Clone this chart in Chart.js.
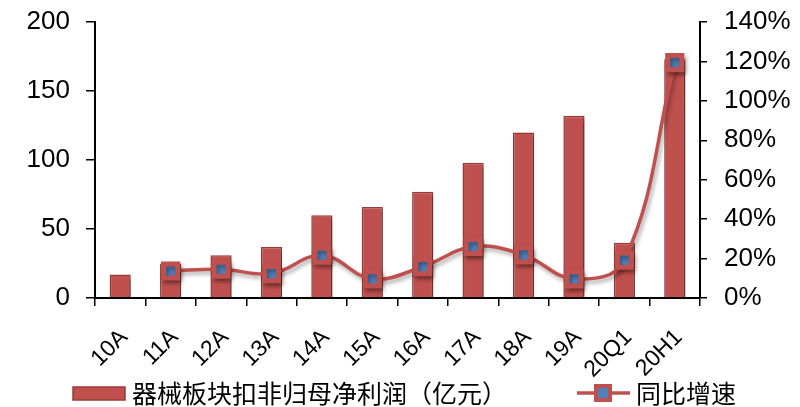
<!DOCTYPE html>
<html><head><meta charset="utf-8">
<script src="https://cdn.jsdelivr.net/npm/chart.js@4/dist/chart.umd.min.js"></script>
<style>html,body{margin:0;padding:0;background:#fff}#wrap{width:800px;height:407px;position:relative}</style>
</head><body><div id="wrap"><canvas id="c" width="800" height="407"></canvas></div>
<script>
const categories = ['10A','11A','12A','13A','14A','15A','16A','17A','18A','19A','20Q1','20H1'];
const profitValues = [17, 25, 31, 37, 60, 66, 77, 98, 120, 132, 40, 173];
const growthValues = [null, 13.7, 14.6, 12.4, 21.7, 9.7, 15.9, 26.1, 21.9, 9.7, 19.2, 119.4];
const leftTicks = [0, 50, 100, 150, 200];
const rightTicks = [0, 20, 40, 60, 80, 100, 120, 140];
const seriesNames = ['器械板块扣非归母净利润（亿元）', '同比增速'];

const RED = '#C0504D', RED_DARK = '#9A3A37', BLUE = '#4F81BD';
const AXIS_FONT = {family: 'Arial, "Liberation Sans", sans-serif', size: 26};
const X_FONT = {family: 'Arial, "Liberation Sans", sans-serif', size: 23};

const shadowPlugin = {
  id: 'shadow',
  beforeDatasetDraw(chart) {
    const ctx = chart.ctx;
    ctx.save();
    ctx.shadowColor = 'rgba(0,0,0,0.35)';
    ctx.shadowBlur = 4;
    ctx.shadowOffsetX = 2;
    ctx.shadowOffsetY = 3;
  },
  afterDatasetDraw(chart) { chart.ctx.restore(); }
};

const legendPlugin = {
  id: 'customLegend',
  afterDraw(chart) {
    const ctx = chart.ctx;
    ctx.save();
    const yc = 393;
    ctx.fillStyle = RED; ctx.strokeStyle = RED_DARK; ctx.lineWidth = 1.5;
    ctx.fillRect(73, 387, 52, 13); ctx.strokeRect(73, 387, 52, 13);
    ctx.font = '25px "Noto Sans CJK SC", sans-serif';
    ctx.fillStyle = '#000'; ctx.textBaseline = 'middle'; ctx.textAlign = 'left';
    ctx.fillText(seriesNames[0], 132, yc);
    ctx.strokeStyle = RED; ctx.lineWidth = 3.5;
    ctx.beginPath(); ctx.moveTo(577, yc); ctx.lineTo(630, yc); ctx.stroke();
    ctx.fillStyle = RED; ctx.fillRect(594, yc - 9, 18, 18);
    ctx.fillStyle = BLUE; ctx.fillRect(598, yc - 5, 10, 10);
    ctx.fillStyle = '#000';
    ctx.fillText(seriesNames[1], 636, yc);
    ctx.restore();
  }
};

new Chart(document.getElementById('c'), {
  data: {
    labels: categories,
    datasets: [
      {
        type: 'line', label: seriesNames[1], data: growthValues, yAxisID: 'y1', order: 0,
        borderColor: RED, borderWidth: 3.5, tension: 0.4, spanGaps: true,
        pointStyle: 'rect', pointRadius: 10, pointHoverRadius: 10,
        pointBackgroundColor: BLUE, pointBorderColor: RED, pointBorderWidth: 5
      },
      {
        type: 'bar', label: seriesNames[0], data: profitValues, yAxisID: 'y', order: 1,
        backgroundColor: RED, borderColor: RED_DARK, borderWidth: 1.5,
        barPercentage: 0.42, categoryPercentage: 1
      }
    ]
  },
  options: {
    responsive: false, animation: false, devicePixelRatio: 1,
    layout: {padding: {top: 22, left: 0, right: 0, bottom: 0}},
    plugins: {legend: {display: false}, tooltip: {enabled: false}},
    scales: {
      x: {
        offset: true,
        grid: {drawOnChartArea: false, drawTicks: true, tickLength: 8, color: '#000', lineWidth: 1.5, offset: true},
        border: {display: true, color: '#000', width: 2},
        ticks: {color: '#000', font: X_FONT, minRotation: 45, maxRotation: 45, padding: 18, labelOffset: 4, autoSkip: false},
        afterFit(s) { s.height = 109; s.paddingLeft = 0; s.paddingRight = 0; }
      },
      y: {
        position: 'left', min: 0, max: 200,
        afterBuildTicks(s) { s.ticks = leftTicks.map(v => ({value: v})); },
        grid: {drawOnChartArea: false, drawTicks: true, tickLength: 9, color: '#000', lineWidth: 1.5},
        border: {display: true, color: '#000', width: 2},
        ticks: {color: '#000', font: AXIS_FONT, padding: 16},
        afterFit(s) { s.width = 95; s.paddingTop = 0; s.paddingBottom = 0; }
      },
      y1: {
        position: 'right', min: 0, max: 140,
        afterBuildTicks(s) { s.ticks = rightTicks.map(v => ({value: v})); },
        grid: {drawOnChartArea: false, drawTicks: true, tickLength: 7, color: '#000', lineWidth: 1.5},
        border: {display: true, color: '#000', width: 2},
        ticks: {color: '#000', font: AXIS_FONT, padding: 17, callback: v => v + '%'},
        afterFit(s) { s.width = 100; s.paddingTop = 0; s.paddingBottom = 0; }
      }
    }
  },
  plugins: [shadowPlugin, legendPlugin]
});
</script></body></html>
